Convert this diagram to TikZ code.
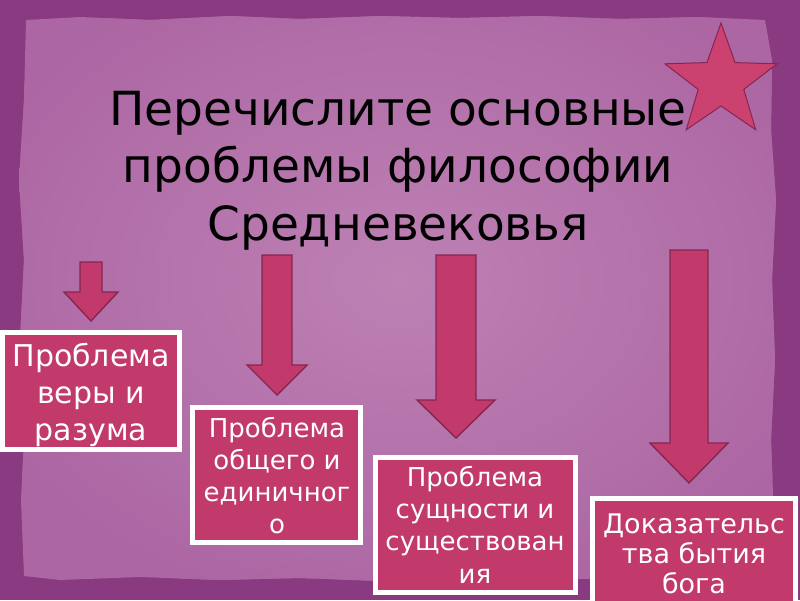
\documentclass[tikz,border=0pt]{standalone}
\usepackage{fontspec}
\setmainfont{DejaVu Sans}
\definecolor{framecol}{HTML}{8A3A80}
\definecolor{paper}{HTML}{AC66A3}
\definecolor{paperlight}{HTML}{BD81B4}
\definecolor{crim}{HTML}{C13A6B}
\definecolor{crimdark}{HTML}{862650}
\definecolor{starfill}{HTML}{CB4270}
\newcommand\blockarrowdraw[6]{\draw[blockarrow] (#1-#5,#2) -- (#1+#5,#2) -- (#1+#5,#3) -- (#1+#6,#3) -- (#1,#4) -- (#1-#6,#3) -- (#1-#5,#3) -- cycle;}
\begin{document}
\begin{tikzpicture}[x=1pt,y=-1pt,
  box/.style={draw=white,line width=5pt,fill=crim,inner sep=0pt},
  boxtext/.style={text=white,align=center,inner sep=0pt,anchor=base},
  blockarrow/.style={fill=crim,draw=crimdark,line width=1.4pt,line join=miter},
  starst/.style={fill=starfill,draw=crimdark,line width=1pt,line join=miter}]
\useasboundingbox (0,0) rectangle (800,600);
\clip (0,0) rectangle (800,600);
% background frame and paper
\fill[framecol] (0,0) rectangle (800,600);
\def\paperpath{(26,20) -- (80,17) -- (150,20) -- (230,16) -- (300,19) -- (380,16) -- (460,18) -- (540,16) -- (620,19) -- (700,17) -- (765,20) -- (772,60) -- (771,130) -- (776,200) -- (772,280) -- (775,360) -- (771,440) -- (774,520) -- (772,578) -- (700,582) -- (620,578) -- (540,580) -- (460,577) -- (380,581) -- (300,578) -- (220,580) -- (140,577) -- (60,580) -- (24,576) -- (21,500) -- (25,420) -- (20,340) -- (24,260) -- (19,180) -- (24,100) -- cycle}
\fill[paper] \paperpath;
\begin{scope}
  \clip \paperpath;
  \shade[inner color=paperlight, outer color=paper] (400,280) ellipse [x radius=460pt, y radius=340pt];
\end{scope}
% star
\draw[starst] (721,23) -- (735.1,62.6) -- (777.1,63.8) -- (743.8,89.4) -- (755.7,129.7) -- (721,106) -- (686.3,129.7) -- (698.2,89.4) -- (664.9,63.8) -- (706.9,62.6) -- cycle;
% title (base anchor = last line baseline)
\node[font=\fontsize{47}{57.5}\selectfont, align=center, anchor=base, inner sep=0pt] (title) at (398,240)
  {Перечислите основные\\проблемы философии\\Средневековья};
% arrows
\blockarrowdraw{91}{262}{292}{321}{11}{27}
\blockarrowdraw{277}{255}{365}{395}{15}{30}
\blockarrowdraw{456}{255}{400}{438}{20}{39}
\blockarrowdraw{689}{250}{443}{483}{19}{39}
% boxes
\node[box, minimum width=177pt, minimum height=117pt] (b1) at (91,391) {};
\node[box, minimum width=168pt, minimum height=135pt] (b2) at (276.5,475) {};
\node[box, minimum width=200pt, minimum height=135pt] (b3) at (475.5,525) {};
\node[box, minimum width=203pt, minimum height=110pt] (b4) at (694,553) {};
% box texts (anchored at last baseline)
\node[boxtext, font=\fontsize{30}{37}\selectfont] (t1) at (91,440) {Проблема\\веры и\\разума};
\node[boxtext, font=\fontsize{26}{32}\selectfont] (t2) at (277,533) {Проблема\\общего и\\единичног\\о};
\node[boxtext, font=\fontsize{26}{32.2}\selectfont] (t3) at (475,583) {Проблема\\сущности и\\существован\\ия};
\node[boxtext, font=\fontsize{27}{30}\selectfont] (t4) at (694,593) {Доказательс\\тва бытия\\бога};
\end{tikzpicture}
\end{document}
